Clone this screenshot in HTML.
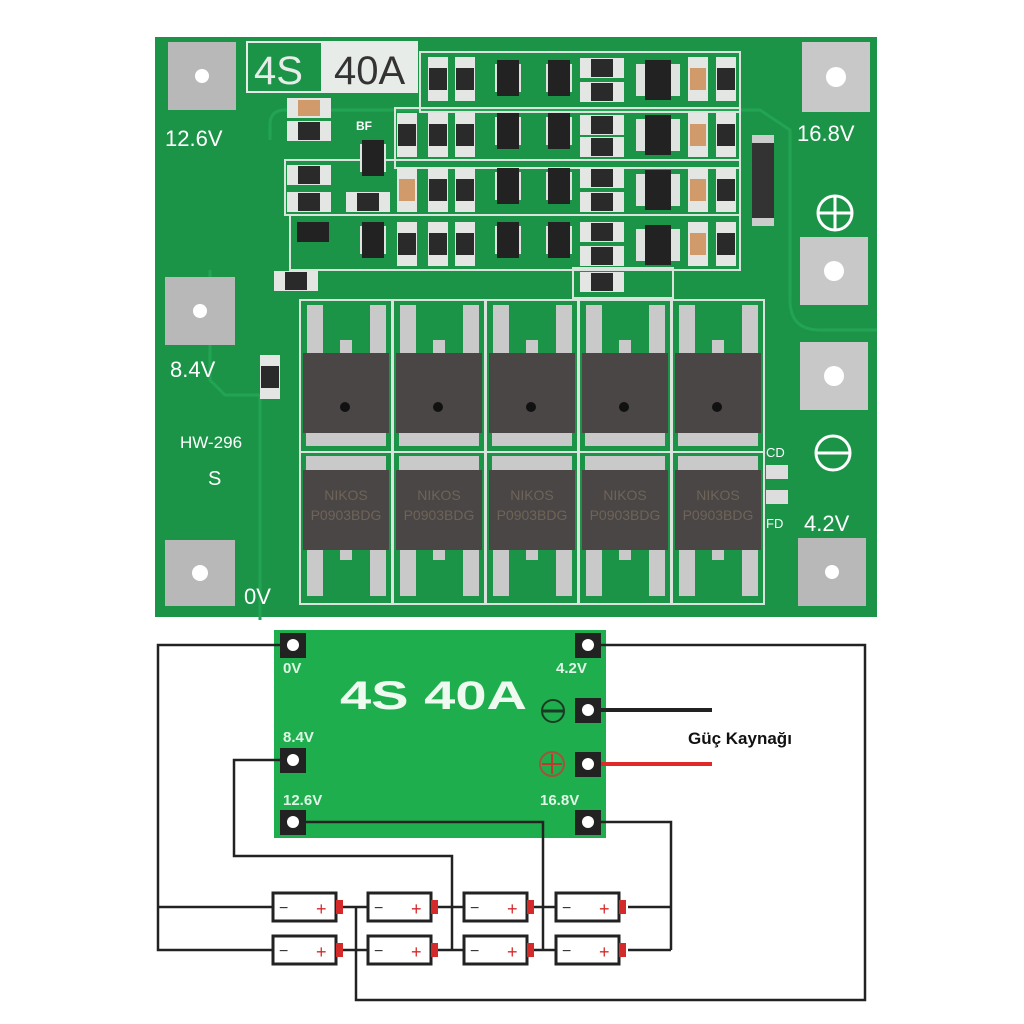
<!DOCTYPE html>
<html><head><meta charset="utf-8"><style>
html,body{margin:0;padding:0;background:#fff}
svg{display:block}
text{font-family:"Liberation Sans",sans-serif}
</style></head><body>
<svg width="1024" height="1024" viewBox="0 0 1024 1024" xmlns="http://www.w3.org/2000/svg">
<defs>
<g id="rv"><rect width="20" height="44" fill="#e4e6e4"/><rect x="1" y="11" width="18" height="22" fill="#2a2a2a"/></g>
<g id="rh"><rect width="44" height="20" fill="#e4e6e4"/><rect x="11" y="1" width="22" height="18" fill="#2a2a2a"/></g>
<g id="cv"><rect width="20" height="44" fill="#e4e6e4"/><rect x="2" y="11" width="16" height="22" fill="#d09a6a"/></g>
<g id="sot"><rect x="-2" y="4" width="26" height="28" fill="#dfe3df"/><rect width="22" height="36" fill="#222"/></g>
</defs>
<rect width="1024" height="1024" fill="#fff"/>
<!-- PCB photo -->
<rect x="155" y="37" width="722" height="580" fill="#1c9448"/>
<path d="M270 140 L270 125 Q270 110 285 110 L760 110 L790 130 L790 300 Q790 330 820 330 L877 330" fill="none" stroke="#22a453" stroke-width="3"/>
<path d="M210 270 L210 380 L225 395 L260 395 L260 620" fill="none" stroke="#22a453" stroke-width="3"/>
<!-- pads -->
<g fill="#b8b8b8">
<rect x="168" y="42" width="68" height="68"/>
<rect x="165" y="277" width="70" height="68"/>
<rect x="165" y="540" width="70" height="66"/>
<rect x="802" y="42" width="68" height="70" fill="#c8c8c8"/>
<rect x="800" y="237" width="68" height="68" fill="#c8c8c8"/>
<rect x="800" y="342" width="68" height="68" fill="#c8c8c8"/>
<rect x="798" y="538" width="68" height="68"/>
</g>
<g fill="#fff">
<circle cx="202" cy="76" r="7"/><circle cx="200" cy="311" r="7"/><circle cx="200" cy="573" r="8"/>
<circle cx="836" cy="77" r="10"/><circle cx="834" cy="271" r="10"/><circle cx="834" cy="376" r="10"/><circle cx="832" cy="572" r="7"/>
</g>
<!-- labels -->
<g fill="#fff" font-size="22">
<text x="165" y="146">12.6V</text>
<text x="170" y="377">8.4V</text>
<text x="244" y="604">0V</text>
<text x="797" y="141">16.8V</text>
<text x="804" y="531">4.2V</text>
<text x="180" y="448" font-size="17">HW-296</text>
<text x="208" y="485" font-size="20">S</text>
<text x="766" y="457" font-size="13">CD</text>
<text x="766" y="528" font-size="13">FD</text>
<text x="356" y="130" font-size="12" font-weight="bold">BF</text>
</g>
<rect x="246" y="41" width="172" height="52" fill="#e8ece8"/>
<rect x="248" y="43" width="73" height="48" fill="#1c9448"/>
<text x="254" y="84" font-size="40" fill="#e8ece8">4S</text>
<text x="334" y="84" font-size="40" fill="#333">40A</text>
<!-- +/- symbols -->
<g stroke="#fff" stroke-width="3" fill="none">
<circle cx="835" cy="213" r="17"/><line x1="818" y1="213" x2="852" y2="213"/><line x1="835" y1="196" x2="835" y2="230"/>
<circle cx="833" cy="453" r="17"/><line x1="816" y1="453" x2="850" y2="453"/>
</g>
<!-- SS34 diode -->
<rect x="752" y="140" width="22" height="82" fill="#333"/>
<rect x="752" y="135" width="22" height="8" fill="#ccc"/><rect x="752" y="218" width="22" height="8" fill="#ccc"/>
<!-- SMD area outlines -->
<g fill="none" stroke="#d8e4dc" stroke-width="2">
<rect x="420" y="52" width="320" height="60"/>
<rect x="395" y="108" width="345" height="60"/>
<rect x="285" y="160" width="455" height="55"/>
<rect x="290" y="215" width="450" height="55"/>
<rect x="573" y="268" width="100" height="30"/>
</g>
<!-- resistors vertical -->
<use href="#rv" x="428" y="57"/><use href="#rv" x="455" y="57"/>
<use href="#rv" x="397" y="113"/><use href="#rv" x="428" y="113"/><use href="#rv" x="455" y="113"/>
<use href="#cv" x="397" y="168"/><use href="#rv" x="428" y="168"/><use href="#rv" x="455" y="168"/>
<use href="#rv" x="397" y="222"/><use href="#rv" x="428" y="222"/><use href="#rv" x="455" y="222"/>
<use href="#cv" x="688" y="57"/><use href="#rv" x="716" y="57"/>
<use href="#cv" x="688" y="113"/><use href="#rv" x="716" y="113"/>
<use href="#cv" x="688" y="168"/><use href="#rv" x="716" y="168"/>
<use href="#cv" x="688" y="222"/><use href="#rv" x="716" y="222"/>
<use href="#rv" x="260" y="355"/>
<!-- resistors horizontal -->
<use href="#rh" x="580" y="58"/><use href="#rh" x="580" y="82"/>
<use href="#rh" x="580" y="115"/><use href="#rh" x="580" y="137"/>
<use href="#rh" x="580" y="168"/><use href="#rh" x="580" y="192"/>
<use href="#rh" x="580" y="222"/><use href="#rh" x="580" y="246"/>
<use href="#rh" x="580" y="272"/>
<use href="#rh" x="287" y="165"/><use href="#rh" x="287" y="192"/>
<use href="#rh" x="346" y="192"/>
<use href="#rh" x="287" y="121"/>
<rect x="287" y="98" width="44" height="20" fill="#e4e6e4"/><rect x="298" y="100" width="22" height="16" fill="#d09a6a"/>
<use href="#rh" x="274" y="271"/>
<!-- SOT23 and ICs -->
<use href="#sot" x="497" y="60"/><use href="#sot" x="548" y="60"/>
<use href="#sot" x="497" y="113"/><use href="#sot" x="548" y="113"/>
<use href="#sot" x="497" y="168"/><use href="#sot" x="548" y="168"/>
<use href="#sot" x="497" y="222"/><use href="#sot" x="548" y="222"/>
<use href="#sot" x="362" y="140"/><use href="#sot" x="362" y="222"/>
<rect x="297" y="222" width="32" height="20" fill="#222"/>
<g fill="#dfe3df">
<rect x="636" y="64" width="44" height="32"/><rect x="636" y="119" width="44" height="32"/>
<rect x="636" y="174" width="44" height="32"/><rect x="636" y="229" width="44" height="32"/>
</g>
<g fill="#222">
<rect x="645" y="60" width="26" height="40"/><rect x="645" y="115" width="26" height="40"/>
<rect x="645" y="170" width="26" height="40"/><rect x="645" y="225" width="26" height="40"/>
</g>
<!-- MOSFETs -->
<g id="mf">
<rect x="300" y="300" width="92" height="152" fill="none" stroke="#d8e4dc" stroke-width="2"/>
<rect x="300" y="452" width="92" height="152" fill="none" stroke="#d8e4dc" stroke-width="2"/>
<g fill="#c9c9c9">
<rect x="307" y="305" width="16" height="48"/><rect x="370" y="305" width="16" height="48"/><rect x="340" y="340" width="12" height="14"/>
<rect x="306" y="430" width="80" height="16"/>
<rect x="306" y="456" width="80" height="16"/>
<rect x="307" y="548" width="16" height="48"/><rect x="370" y="548" width="16" height="48"/><rect x="340" y="548" width="12" height="12"/>
</g>
<rect x="303" y="353" width="86" height="80" fill="#4a4645"/>
<rect x="303" y="470" width="86" height="80" fill="#4a4645"/>
<circle cx="345" cy="407" r="5" fill="#111"/>
<text x="346" y="520" font-size="14" fill="#6e6458" text-anchor="middle">P0903BDG</text>
<text x="346" y="500" font-size="14" fill="#6e6458" text-anchor="middle">NIKOS</text>
</g>
<use href="#mf" x="93"/><use href="#mf" x="186"/><use href="#mf" x="279"/><use href="#mf" x="372"/>
<rect x="766" y="465" width="22" height="14" fill="#ddd"/><rect x="766" y="490" width="22" height="14" fill="#ddd"/>

<!-- Diagram -->
<rect x="274" y="630" width="332" height="208" fill="#1fae4e"/>
<g fill="#222">
<rect x="280" y="633" width="26" height="25"/><rect x="575" y="633" width="26" height="25"/>
<rect x="575" y="698" width="26" height="25"/><rect x="575" y="752" width="26" height="25"/>
<rect x="280" y="748" width="26" height="25"/><rect x="280" y="810" width="26" height="25"/><rect x="575" y="810" width="26" height="25"/>
</g>
<g fill="#fff"><circle cx="293" cy="645" r="6"/><circle cx="588" cy="645" r="6"/><circle cx="588" cy="710" r="6"/><circle cx="588" cy="764" r="6"/><circle cx="293" cy="760" r="6"/><circle cx="293" cy="822" r="6"/><circle cx="588" cy="822" r="6"/></g>
<g fill="#e0f5e6" font-weight="bold" font-size="15">
<text x="283" y="673">0V</text><text x="556" y="673">4.2V</text>
<text x="283" y="742">8.4V</text><text x="283" y="805">12.6V</text><text x="540" y="805">16.8V</text>
<text x="340" y="709" font-size="40" fill="#eefaf0" textLength="187" lengthAdjust="spacingAndGlyphs">4S 40A</text>
</g>
<circle cx="553" cy="711" r="11" fill="none" stroke="#1a3a22" stroke-width="2"/><line x1="542" y1="711" x2="564" y2="711" stroke="#1a3a22" stroke-width="3"/>
<circle cx="552" cy="764" r="12" fill="none" stroke="#a0553a" stroke-width="2"/><line x1="542" y1="764" x2="562" y2="764" stroke="#c0392b" stroke-width="2"/><line x1="552" y1="754" x2="552" y2="774" stroke="#c0392b" stroke-width="2"/>
<line x1="601" y1="710" x2="712" y2="710" stroke="#222" stroke-width="4"/>
<line x1="601" y1="764" x2="712" y2="764" stroke="#e02a2a" stroke-width="4"/>
<text x="688" y="744" font-size="17" font-weight="bold" fill="#111">Güç Kaynağı</text>
<g fill="none" stroke="#222" stroke-width="2.5">
<polyline points="280,645 158,645 158,950 272,950"/><line x1="158" y1="907" x2="272" y2="907"/>
<polyline points="601,645 865,645 865,1000 356,1000 356,907"/>
<polyline points="280,760 234,760 234,856 452,856 452,950"/>
<polyline points="306,822 543,822 543,950"/>
<polyline points="601,822 671,822 671,950"/>
<line x1="342" y1="907" x2="368" y2="907"/><line x1="342" y1="950" x2="368" y2="950"/>
<line x1="438" y1="907" x2="464" y2="907"/><line x1="438" y1="950" x2="464" y2="950"/>
<line x1="534" y1="907" x2="556" y2="907"/><line x1="534" y1="950" x2="556" y2="950"/>
<line x1="628" y1="907" x2="671" y2="907"/><line x1="628" y1="950" x2="671" y2="950"/>
</g>
<g id="bat">
<rect x="273" y="893" width="63" height="28" fill="#fff" stroke="#222" stroke-width="3"/>
<rect x="336" y="900" width="7" height="14" fill="#d42a2a"/>
<text x="279" y="913" font-size="16" fill="#333">−</text>
<text x="316" y="915" font-size="18" fill="#d42a2a">+</text>
</g>
<use href="#bat" x="95"/><use href="#bat" x="191"/><use href="#bat" x="283"/>
<use href="#bat" y="43"/><use href="#bat" x="95" y="43"/><use href="#bat" x="191" y="43"/><use href="#bat" x="283" y="43"/>
</svg>
</body></html>
